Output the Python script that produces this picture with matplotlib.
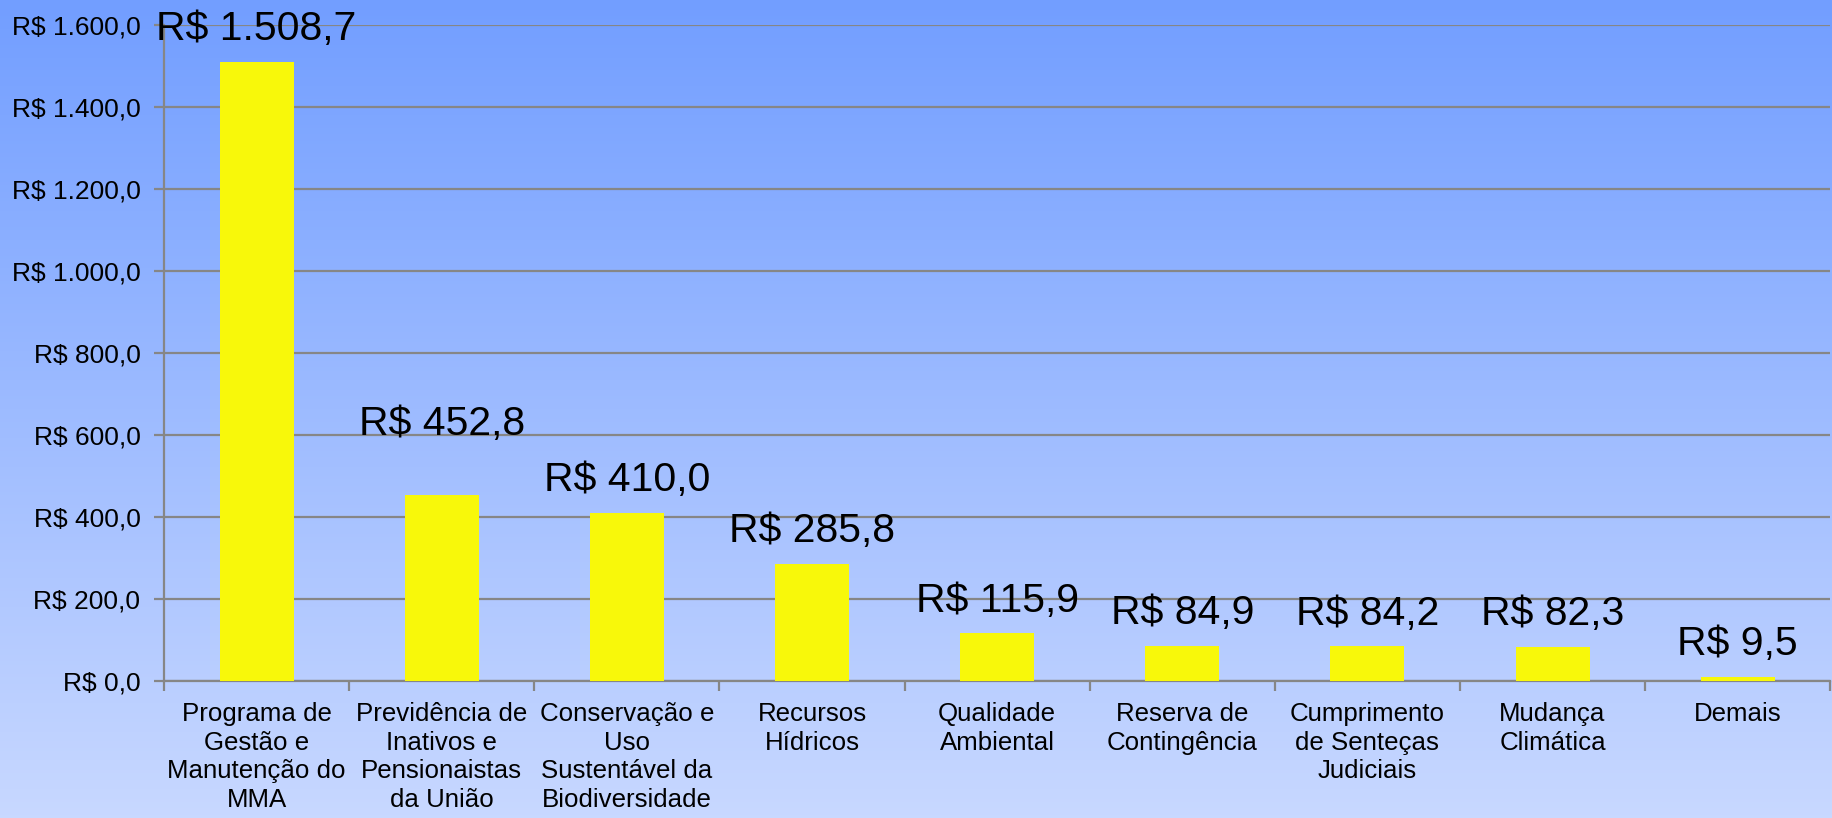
import matplotlib.pyplot as plt
import numpy as np
from matplotlib.ticker import FixedLocator, FuncFormatter

plt.rcParams['font.family'] = ['Liberation Sans', 'DejaVu Sans']

# Data (R$ milhões)
categorias = [
    "Programa de\nGestão e\nManutenção do\nMMA",
    "Previdência de\nInativos e\nPensionaistas\nda União",
    "Conservação e\nUso\nSustentável da\nBiodiversidade",
    "Recursos\nHídricos",
    "Qualidade\nAmbiental",
    "Reserva de\nContingência",
    "Cumprimento\nde Senteças\nJudiciais",
    "Mudança\nClimática",
    "Demais",
]
valores = [1508.7, 452.8, 410.0, 285.8, 115.9, 84.9, 84.2, 82.3, 9.5]
y_ticks = [0, 200, 400, 600, 800, 1000, 1200, 1400, 1600]


def brl(v, decimals=1):
    s = f"{v:,.{decimals}f}"
    return "R$ " + s.replace(",", "X").replace(".", ",").replace("X", ".")


fig = plt.figure(figsize=(18.33, 8.18), dpi=100)

# gradient background over whole figure
bg = fig.add_axes([0, 0, 1, 1], zorder=-1)
grad = np.linspace(0, 1, 256).reshape(-1, 1)
top = np.array([114, 158, 255]) / 255
bot = np.array([200, 216, 255]) / 255
img = top + (bot - top) * grad[..., None]
bg.imshow(img.reshape(256, 1, 3), aspect='auto', extent=[0, 1, 0, 1])
bg.axis('off')

ax = fig.add_axes([0.0895, 0.1675, 0.909, 0.802])
ax.patch.set_alpha(0)

x = np.arange(len(categorias))
ax.bar(x, valores, width=0.4, color='#F8F80A', zorder=3)

# the 452,8 label sits higher in the original (moved by hand to clear its neighbour)
for i, (xi, v) in enumerate(zip(x, valores)):
    dy = 38 if i == 1 else 10
    ax.annotate(brl(v), (xi, v), xytext=(0, dy), textcoords='offset points',
                ha='center', va='bottom', fontsize=29.5, color='black',
                annotation_clip=False)

ax.set_xlim(-0.5, len(categorias) - 0.5)
ax.set_ylim(0, 1600)
ax.set_yticks(y_ticks)
ax.yaxis.set_major_formatter(FuncFormatter(lambda v, p: brl(v)))
ax.grid(axis='y', color='#868686', linewidth=1.6, zorder=0)

# category boundaries as ticks, labels at centres
ax.xaxis.set_major_locator(FixedLocator(np.arange(-0.5, len(categorias), 1.0)))
ax.xaxis.set_major_formatter(FuncFormatter(lambda v, p: ""))
ax.set_xticks(x, minor=True)
ax.set_xticklabels(categorias, minor=True, fontsize=18.6, linespacing=1.25)
ax.tick_params(axis='x', which='major', length=7, color='#868686', width=1.6)
ax.tick_params(axis='x', which='minor', length=0, pad=15)
ax.tick_params(axis='y', length=7, color='#868686', width=1.6, labelsize=19, pad=10)

for s in ['top', 'right']:
    ax.spines[s].set_visible(False)
for s in ['left', 'bottom']:
    ax.spines[s].set_color('#868686')
    ax.spines[s].set_linewidth(1.6)

fig.savefig("out.png", dpi=100)
